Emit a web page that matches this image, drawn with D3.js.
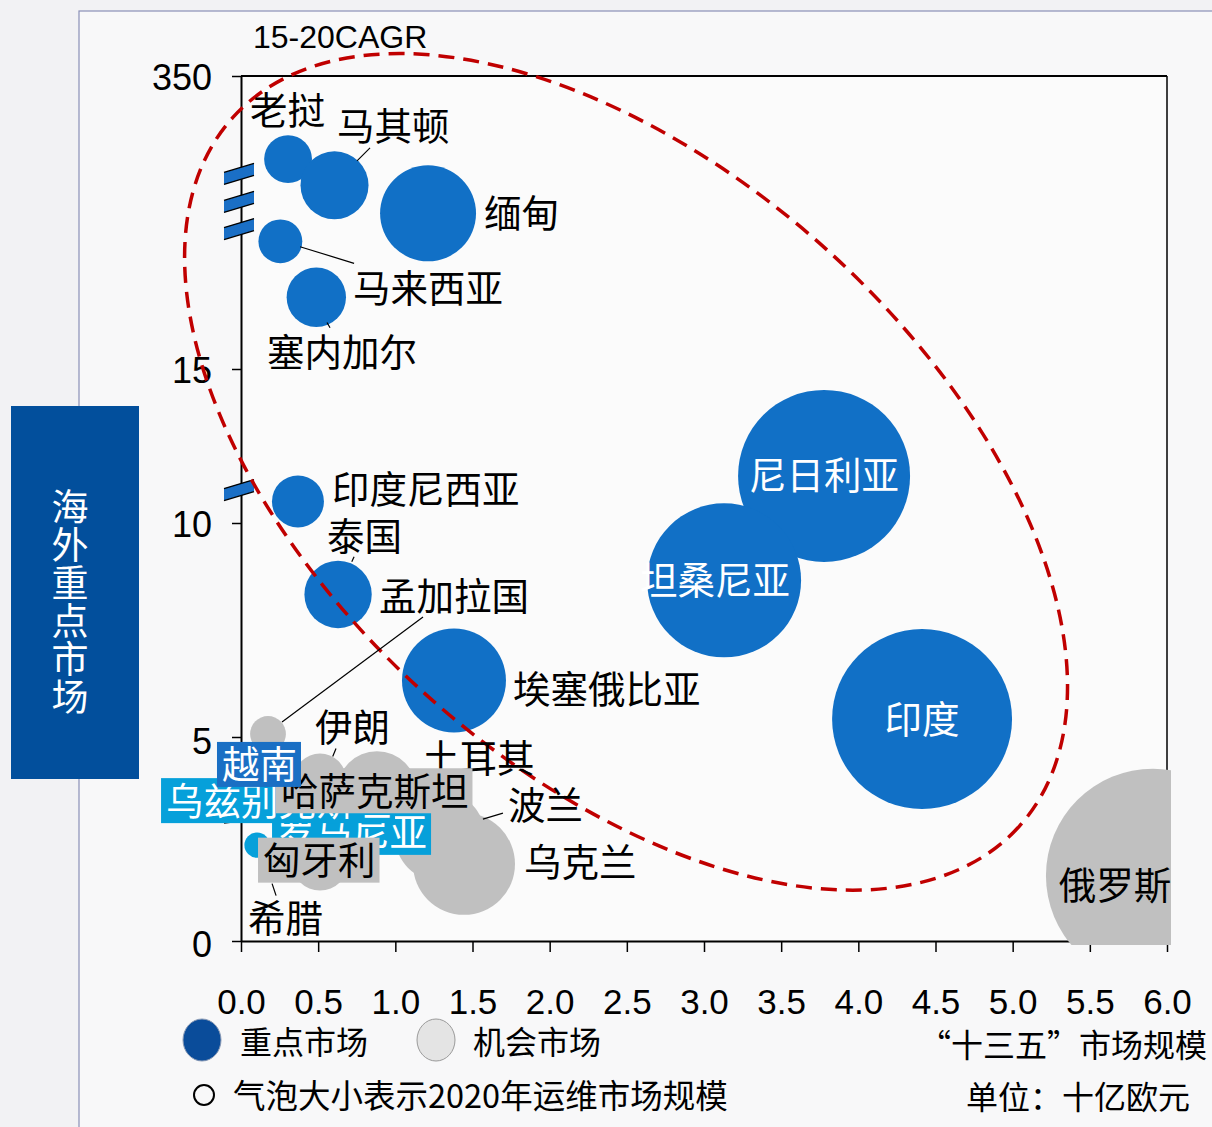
<!DOCTYPE html>
<html><head><meta charset="utf-8">
<script src="https://cdn.jsdelivr.net/npm/d3@7"></script>
<style>body{margin:0;background:#f2f2f4;} svg{display:block}</style>
</head><body><svg id="c" width="1212" height="1127"></svg>
<script>
// ---------------- data ----------------
const names   = ["老挝","马其顿","缅甸","马来西亚","塞内加尔","印度尼西亚","泰国","孟加拉国","埃塞俄比亚",
                 "伊朗","越南","乌兹别克斯坦","哈萨克斯坦","土耳其","波兰","罗马尼亚","匈牙利","乌克兰","希腊",
                 "尼日利亚","坦桑尼亚","印度","俄罗斯"];
const xValues = [0.305,0.606,1.212,0.255,0.488,0.369,0.629,0.175,1.380,
                 0.512,0.123,0.104,0.881,1.192,1.289,0.577,0.512,1.445,0.318,
                 3.778,3.130,4.413,5.909];
const yValues = [255,225,193,161,97,10.70,8.33,5.07,6.32,
                 3.96,4.34,2.35,3.67,3.30,2.57,2.65,1.92,1.89,1.92,
                 11.53,8.66,5.42,1.60];
const sizes   = [0.50,1.01,2.01,0.42,0.77,0.59,0.99,0.28,2.36,
                 0.59,0.20,0.14,1.40,1.13,1.77,0.20,0.68,2.27,0.28,
                 6.46,5.18,7.07,10.0];
const groups  = ["key","key","key","key","key","key","key","opp","key",
                 "opp","key","cyan","opp","opp","opp","cyan","opp","opp","opp",
                 "key","key","key","opp"];
const xTicks = [0,0.5,1,1.5,2,2.5,3,3.5,4,4.5,5,5.5,6];
const yTicks = [0,5,10,15,350];
const yBreaks = [238,206,175,11.07];
const yAxisTitle = "15-20CAGR";
const xAxisTitle = "“十三五”市场规模";
const unitText = "单位：十亿欧元";
const sideTitle = "海外重点市场";
const legendItems = ["重点市场","机会市场"];
const sizeNote = "气泡大小表示2020年运维市场规模";
// highlighted region (center in data units, semi-axes in x units)
const focusRegion = {cx:2.495, cy:11.66, a:3.43, b:1.94, angle:42};

// ---------------- layout ----------------
const colors = {key:"#1170c6", opp:"#c0c0c0", cyan:"#06a0da"};
const labelLayout = {
  "老挝":{dx:-38,dy:-49},
  "马其顿":{dx:2.5,dy:-58.5,line:[22.5,-24.5,35.5,-37.5]},
  "缅甸":{dx:56,dy:0.5},
  "马来西亚":{dx:72.7,dy:46.7,line:[19.7,5.4,73.7,22]},
  "塞内加尔":{dx:-49.3,dy:55.5,line:[10.7,25.2,13.7,30.5]},
  "印度尼西亚":{dx:34,dy:-11.5},
  "泰国":{dx:-11,dy:-57.7,line:[13.7,-32.7,16,-37.7]},
  "孟加拉国":{dx:111,dy:-138,line:[14,-12,155,-117]},
  "埃塞俄比亚":{dx:59,dy:9},
  "伊朗":{dx:-5,dy:-52,line:[12.7,-23,16,-31]},
  "越南":{dx:-38,dy:1,box:"#1a6fc4",color:"#fff",order:4},
  "乌兹别克斯坦":{dx:-91,dy:-44,box:"#06a0da",color:"#fff",order:2,line:[-33,-22,-17,-24]},
  "哈萨克斯坦":{dx:-96,dy:0,box:"#c0c0c0",color:"#000",order:3},
  "土耳其":{dx:-3,dy:-48},
  "波兰":{dx:68,dy:-31,line:[43,-17,63,-23]},
  "罗马尼亚":{dx:-53,dy:0,box:"#06a0da",color:"#fff",order:1},
  "匈牙利":{dx:-57,dy:-2,box:"#c0c0c0",color:"#000",order:5},
  "乌克兰":{dx:60,dy:-1},
  "希腊":{dx:-42,dy:56,line:[-18,21,-14,33]},
  "尼日利亚":{dx:0,dy:0,anchor:"middle",color:"#fff"},
  "坦桑尼亚":{dx:-9,dy:0,anchor:"middle",color:"#fff"},
  "印度":{dx:0,dy:0,anchor:"middle",color:"#fff"},
  "俄罗斯":{dx:-38,dy:10,anchor:"middle",color:"#000"}
};

const CJK = "'Noto Sans CJK SC','Noto Sans',sans-serif";
const LAT = "'Liberation Sans',Arial,sans-serif";
const LABEL_SIZE = 37.5;
const CJK_SHIFT = -3; // ink centering correction for CJK glyphs

const svg = d3.select("#c");
const x = d3.scaleLinear().domain([0,6]).range([241,1167]);
const y = d3.scaleLinear().domain([0,5,10,15,350]).range([941,737,523,369,76]);
const r = d3.scaleSqrt().domain([0,10]).range([0,107]);

const data = names.map((n,i)=>({name:n,x:xValues[i],y:yValues[i],size:sizes[i],group:groups[i]}));

// background panel
svg.append("rect").attr("x",79).attr("y",11).attr("width",1200).attr("height",1200)
  .attr("fill","#f8f8f9").attr("stroke","#8a90b6").attr("stroke-width",1.2);
svg.append("rect").attr("x",x(0)).attr("y",y(350)).attr("width",x(6)-x(0)).attr("height",y(0)-y(350))
  .attr("fill","#fbfbfb");

// side title panel
svg.append("rect").attr("x",11).attr("y",406).attr("width",128).attr("height",373).attr("fill","#024f9c");
svg.append("g").selectAll("text").data(Array.from(sideTitle)).join("text")
  .attr("x",70).attr("y",(d,i)=>505+i*38).attr("text-anchor","middle").attr("dominant-baseline","central")
  .attr("font-family",CJK).attr("font-size",37).attr("fill","#fff").text(d=>d);

// frame
svg.append("line").attr("x1",x(0)).attr("x2",x(6)).attr("y1",y(350)).attr("y2",y(350)).attr("stroke","#000").attr("stroke-width",2);
svg.append("line").attr("x1",x(6)).attr("x2",x(6)).attr("y1",y(350)).attr("y2",y(0)).attr("stroke","#000").attr("stroke-width",1.5);

// y axis
const gy = svg.append("g").attr("transform",`translate(${x(0)},0)`)
  .call(d3.axisLeft(y).tickValues(yTicks).tickSize(9).tickSizeOuter(0).tickFormat(d3.format("d")));
gy.select(".domain").attr("stroke","#000").attr("stroke-width",2);
gy.selectAll(".tick line").attr("stroke","#000").attr("stroke-width",1.5);
gy.selectAll(".tick text").attr("x",-29).attr("dy",d=>d===5?4:(d===0?3:1)).attr("dominant-baseline","central")
  .attr("font-family",LAT).attr("font-size",36).attr("fill","#000");

// x axis
const gx = svg.append("g").attr("transform",`translate(0,${y(0)})`)
  .call(d3.axisBottom(x).tickValues(xTicks).tickSize(11).tickSizeOuter(0).tickFormat(d3.format(".1f")));
gx.select(".domain").attr("stroke","#000").attr("stroke-width",2);
gx.selectAll(".tick line").attr("stroke","#000").attr("stroke-width",1.5);
gx.selectAll(".tick text").attr("y",60).attr("dy",null).attr("dominant-baseline","central")
  .attr("font-family",LAT).attr("font-size",35).attr("fill","#000");

// axis breaks
const gb = svg.append("g");
yBreaks.forEach(v=>{
  const c = y(v), x0 = x(0)-17, x1 = x(0)+13;
  gb.append("polygon").attr("points",`${x0},${c+4.5-6} ${x1},${c-4.5-6} ${x1},${c-4.5+6} ${x0},${c+4.5+6}`)
    .attr("fill","#1a6fc6");
  gb.append("line").attr("x1",x0).attr("y1",c+4.5-6).attr("x2",x1).attr("y2",c-4.5-6).attr("stroke","#000").attr("stroke-width",1.3);
  gb.append("line").attr("x1",x0).attr("y1",c+4.5+6).attr("x2",x1).attr("y2",c-4.5+6).attr("stroke","#000").attr("stroke-width",1.3);
});

// y title
svg.append("text").attr("x",253).attr("y",37).attr("dominant-baseline","central")
  .attr("font-family",LAT).attr("font-size",32).attr("fill","#000").text(yAxisTitle);

// bubbles
svg.append("clipPath").attr("id","clip").append("rect").attr("x",0).attr("y",0).attr("width",x(6)+4).attr("height",y(0)+4);
const gBub = svg.append("g").attr("clip-path","url(#clip)");
gBub.selectAll("circle").data(data).join("circle")
  .attr("cx",d=>x(d.x)).attr("cy",d=>y(d.y)).attr("r",d=>r(d.size)).attr("fill",d=>colors[d.group]);

// focus ellipse
const ra = x(focusRegion.a)-x(0), rb = x(focusRegion.b)-x(0);
svg.append("ellipse").attr("cx",0).attr("cy",0).attr("rx",ra).attr("ry",rb)
  .attr("transform",`translate(${x(focusRegion.cx)},${y(focusRegion.cy)}) rotate(${focusRegion.angle})`)
  .attr("fill","none").attr("stroke","#c00000").attr("stroke-width",3.5).attr("stroke-dasharray","16 9");

// leader lines
const gL = svg.append("g");
data.forEach(d=>{
  const L = labelLayout[d.name];
  if(L && L.line){
    const cx = x(d.x), cy = y(d.y);
    gL.append("line").attr("x1",cx+L.line[0]).attr("y1",cy+L.line[1]).attr("x2",cx+L.line[2]).attr("y2",cy+L.line[3])
      .attr("stroke","#000").attr("stroke-width",1.2);
  }
});

// plain labels
const gT = svg.append("g");
data.filter(d=>!labelLayout[d.name].box).forEach(d=>{
  const L = labelLayout[d.name];
  gT.append("text").attr("x",x(d.x)+L.dx).attr("y",y(d.y)+L.dy+CJK_SHIFT)
    .attr("text-anchor",L.anchor||"start").attr("dominant-baseline","central")
    .attr("font-family",CJK).attr("font-size",LABEL_SIZE).attr("fill",L.color||"#000").text(d.name);
});

// boxed labels
data.filter(d=>labelLayout[d.name].box).sort((a,b)=>labelLayout[a.name].order-labelLayout[b.name].order).forEach(d=>{
  const L = labelLayout[d.name];
  const g = svg.append("g");
  const rect = g.append("rect");
  const t = g.append("text").attr("x",x(d.x)+L.dx).attr("y",y(d.y)+L.dy+CJK_SHIFT).attr("dominant-baseline","central")
    .attr("font-family",CJK).attr("font-size",LABEL_SIZE).attr("fill",L.color).text(d.name);
  const w = t.node().getComputedTextLength();
  rect.attr("x",x(d.x)+L.dx-5).attr("y",y(d.y)+L.dy-23).attr("width",w+9).attr("height",45).attr("fill",L.box);
});

// legend
const gLeg = svg.append("g");
gLeg.append("ellipse").attr("cx",202).attr("cy",1040).attr("rx",19).attr("ry",21).attr("fill","#0a4c9a").attr("stroke","#8a9ab5").attr("stroke-width",1);
gLeg.append("ellipse").attr("cx",436).attr("cy",1040).attr("rx",19).attr("ry",21).attr("fill","#e4e4e4").attr("stroke","#9a9a9a").attr("stroke-width",1);
gLeg.selectAll("text.li").data(legendItems).join("text").attr("class","li")
  .attr("x",(d,i)=>i===0?240:473).attr("y",1040).attr("dominant-baseline","central")
  .attr("font-family",CJK).attr("font-size",32).attr("fill","#000").text(d=>d);
gLeg.append("circle").attr("cx",204).attr("cy",1095).attr("r",10).attr("fill","none").attr("stroke","#000").attr("stroke-width",2);
gLeg.append("text").attr("x",233).attr("y",1093).attr("dominant-baseline","central")
  .attr("font-family",CJK).attr("font-size",32.5).attr("fill","#000").text(sizeNote);
gLeg.append("text").attr("x",1207).attr("y",1043).attr("text-anchor","end").attr("dominant-baseline","central")
  .attr("font-family",CJK).attr("font-size",32).attr("fill","#000").text(xAxisTitle);
gLeg.append("text").attr("x",1190).attr("y",1095).attr("text-anchor","end").attr("dominant-baseline","central")
  .attr("font-family",CJK).attr("font-size",32).attr("fill","#000").text(unitText);
</script></body></html>
